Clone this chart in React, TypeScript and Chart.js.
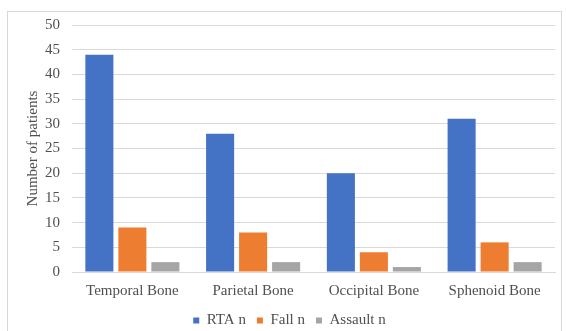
import React, { useEffect, useRef } from "react";
import { Chart, registerables } from "chart.js";

Chart.register(...registerables);

const categories = ["Temporal Bone", "Parietal Bone", "Occipital Bone", "Sphenoid Bone"];
const rtaValues = [44, 28, 20, 31];
const fallValues = [9, 8, 4, 6];
const assaultValues = [2, 2, 1, 2];
const seriesNames = ["RTA n", "Fall n", "Assault n"];

const FONT = "'Liberation Serif', 'Times New Roman', serif";

export default function App() {
  const ref = useRef<HTMLCanvasElement>(null);
  useEffect(() => {
    if (!ref.current) return;
    const chart = new Chart(ref.current, {
      type: "bar",
      data: {
        labels: categories,
        datasets: [
          { label: seriesNames[0], data: rtaValues, backgroundColor: "#4472C4" },
          { label: seriesNames[1], data: fallValues, backgroundColor: "#ED7D31" },
          { label: seriesNames[2], data: assaultValues, backgroundColor: "#A5A5A5" },
        ],
      },
      options: {
        animation: false,
        responsive: false,
        maintainAspectRatio: false,
        layout: { padding: { left: 24, right: 11, top: 25, bottom: 0 } },
        datasets: { bar: { categoryPercentage: 0.82, barPercentage: 0.85 } },
        plugins: {
          tooltip: { enabled: false },
          legend: {
            position: "bottom",
            labels: {
              boxWidth: 6,
              boxHeight: 6,
              padding: 11,
              color: "#505050",
              font: { family: FONT, size: 15 },
            },
          },
        },
        scales: {
          x: {
            grid: { display: false },
            border: { color: "#d9d9d9" },
            ticks: { color: "#505050", font: { family: FONT, size: 15 }, padding: 2 },
          },
          y: {
            min: 0,
            max: 50,
            afterFit: (scale: any) => {
              scale.width = 48;
            },
            ticks: { stepSize: 5, color: "#505050", font: { family: FONT, size: 15 }, padding: 12 },
            grid: { color: "#d9d9d9", drawTicks: false },
            border: { display: false },
            title: {
              display: true,
              text: "Number of patients",
              color: "#505050",
              font: { family: FONT, size: 15 },
              padding: 0,
            },
          },
        },
      },
    });
    return () => chart.destroy();
  }, []);
  return (
    <div
      style={{
        position: "absolute",
        left: 0,
        top: 0,
        width: 566,
        height: 331,
        background: "#fff",
        overflow: "hidden",
      }}
    >
      <div
        style={{
          position: "absolute",
          left: 7,
          top: 11,
          width: 555,
          height: 330,
          border: "1px solid #d9d9d9",
          boxSizing: "border-box",
        }}
      />
      <canvas ref={ref} width={566} height={338} style={{ position: "absolute", left: 0, top: 0 }} />
    </div>
  );
}
